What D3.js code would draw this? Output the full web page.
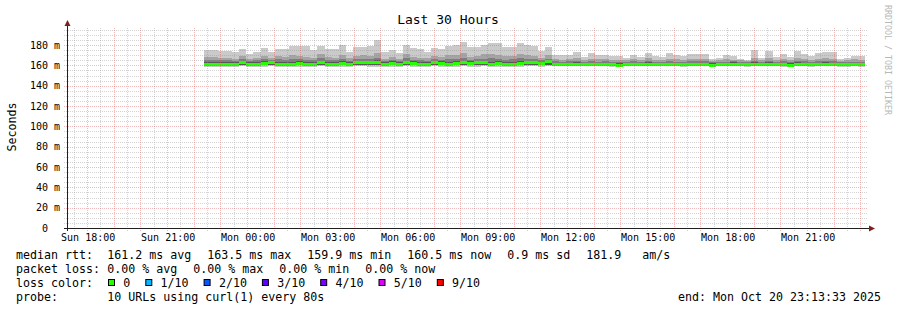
<!DOCTYPE html>
<html><head><meta charset="utf-8">
<script src="https://cdn.jsdelivr.net/npm/d3@7"></script>
<style>
html,body{margin:0;padding:0;background:#fff;}
svg{display:block;}
text{font-family:"DejaVu Sans Mono",monospace;fill:#000;}
</style></head><body>
<svg id="c" width="897" height="310"></svg>
<script>
// ---------------- data ----------------
const title = "Last 30 Hours";
const yAxisTitle = "Seconds";
const watermark = "RRDTOOL / TOBI OETIKER";
const endTime = new Date(Date.UTC(2025, 9, 20, 23, 13, 33));
const spanHours = 30;
const dataStart = new Date(Date.UTC(2025, 9, 19, 22, 21, 0));
const stepSeconds = 960;
const yTicks = [0, 20, 40, 60, 80, 100, 120, 140, 160, 180];
const xTickTimes = [
  Date.UTC(2025,9,19,18), Date.UTC(2025,9,19,21), Date.UTC(2025,9,20,0),
  Date.UTC(2025,9,20,3), Date.UTC(2025,9,20,6), Date.UTC(2025,9,20,9),
  Date.UTC(2025,9,20,12), Date.UTC(2025,9,20,15), Date.UTC(2025,9,20,18),
  Date.UTC(2025,9,20,21)];
const xTickLabels = ["Sun 18:00","Sun 21:00","Mon 00:00","Mon 03:00","Mon 06:00",
  "Mon 09:00","Mon 12:00","Mon 15:00","Mon 18:00","Mon 21:00"];

// rtt in ms, one value per 16-minute step
const pMax = [175.1,175.1,174.4,173.8,173.1,176.1,171.1,173.1,177.0,173.1,
176.1,176.1,179.0,179.0,179.0,175.1,179.5,176.1,176.1,180.3,
173.1,178.3,178.3,179.0,184.9,173.1,175.1,172.4,180.3,176.8,
176.1,173.1,176.8,176.1,178.6,180.3,183.0,178.3,178.3,180.3,
181.7,181.7,177.7,177.7,182.0,179.7,179.0,174.1,178.0,170.2,
170.2,170.2,173.1,168.2,172.1,170.2,170.2,169.2,169.2,167.2,
170.2,168.2,172.1,169.2,168.2,172.4,170.2,168.9,171.0,171.1,
171.1,166.2,167.2,170.2,169.2,166.7,165.7,175.1,167.2,174.1,
168.2,171.1,168.2,174.1,171.1,169.2,172.1,173.1,173.1,166.2,
167.2,169.2,169.2];
const p9 = [168.5,168.0,166.8,167.2,166.5,169.0,166.0,167.5,169.5,167.0,
168.8,168.0,170.2,169.6,168.5,167.0,170.8,168.0,167.5,170.0,
166.8,169.5,170.5,169.0,172.5,166.5,167.8,166.0,171.0,168.5,
167.5,166.8,169.5,168.0,169.8,170.5,172.0,168.5,169.0,170.8,
171.5,170.2,168.8,169.5,171.2,170.0,169.5,167.0,170.0,166.0,
165.5,166.2,167.0,165.2,166.5,165.8,166.0,165.5,165.0,164.8,
166.0,165.2,166.8,165.5,165.0,166.5,165.8,165.2,166.0,166.2,
166.0,164.5,165.0,165.8,165.5,164.8,164.5,167.5,165.0,167.0,
165.2,166.0,165.0,167.2,166.0,165.5,166.5,166.8,166.5,164.5,
165.0,165.8,165.5];
const p8 = [165.5,165.0,164.8,165.2,164.6,166.0,164.5,165.0,166.2,164.8,
166.0,165.2,166.5,166.0,165.5,164.8,166.8,165.2,165.0,166.5,
164.6,166.2,166.5,165.8,167.5,164.6,165.2,164.5,166.8,165.5,
165.0,164.6,166.2,165.2,166.0,166.5,167.0,165.5,166.0,166.5,
167.0,166.2,165.5,166.0,166.8,166.2,165.8,164.8,166.5,163.8,
163.5,163.9,164.2,163.5,164.0,163.6,163.8,163.5,163.3,163.2,
163.8,163.5,164.2,163.6,163.4,164.0,163.7,163.5,163.8,164.0,
163.8,163.2,163.4,163.7,163.8,163.3,163.2,164.5,163.4,164.2,
163.5,163.8,163.4,164.3,163.8,163.6,164.0,164.2,164.0,163.2,
163.4,163.7,163.6];
const p7 = [163.0,163.2,163.0,163.4,163.0,164.3,162.9,163.1,163.8,164.2,
163.3,163.0,163.5,163.8,163.2,163.0,164.5,163.2,163.0,164.0,
163.0,164.3,164.5,164.2,164.8,163.0,163.8,163.3,164.5,163.8,
163.5,163.0,164.4,163.8,163.2,164.0,164.6,163.8,164.5,164.6,
163.5,164.0,163.2,163.4,164.0,164.5,164.3,163.6,165.0,162.6,
162.5,162.6,162.8,162.4,162.7,162.5,162.6,162.4,162.0,162.4,
162.6,162.5,162.8,162.5,162.4,162.7,162.5,162.4,162.6,162.6,
162.6,162.1,162.4,162.5,162.8,162.3,162.3,163.0,162.4,162.8,
162.4,162.6,162.1,162.9,162.5,162.4,162.7,162.8,162.6,162.3,
162.3,162.5,162.3];
const median = [160.8,160.8,160.8,161.3,160.8,163.2,160.8,160.8,161.8,163.2,
160.8,160.8,160.8,161.8,160.8,160.8,163.2,160.8,160.8,161.8,
160.8,163.2,163.2,162.8,162.3,160.8,161.8,161.3,162.8,161.8,
161.3,160.8,162.8,161.8,160.8,161.8,162.8,161.8,162.8,162.8,
160.8,161.8,160.8,160.8,161.8,162.8,162.8,161.8,163.5,161.0,
160.8,160.8,161.0,160.8,161.0,160.8,160.8,160.6,159.9,160.8,
161.0,160.8,161.0,160.8,160.8,161.0,160.8,160.8,161.0,160.9,
160.8,160.2,160.8,160.8,161.2,160.8,160.8,161.0,160.8,161.0,
160.8,160.8,160.2,161.0,160.8,160.8,161.0,160.8,160.8,160.8,
160.6,160.8,160.5];
const pLow = [159.6,159.5,159.7,159.8,159.5,160.6,159.6,159.5,160.0,160.5,
159.6,159.5,159.7,160.0,159.6,159.5,160.6,159.6,159.5,160.0,
159.6,160.5,160.6,160.4,160.2,159.5,160.0,159.8,160.4,160.0,
159.8,159.6,160.4,160.0,159.6,160.0,160.5,160.0,160.4,160.4,
159.6,160.0,159.5,159.6,160.0,160.4,160.5,160.0,160.8,159.9,
159.8,159.8,159.9,159.8,159.9,159.8,159.8,159.6,159.2,159.8,
159.9,159.8,159.9,159.8,159.8,159.9,159.8,159.7,159.9,159.8,
159.8,159.3,159.8,159.8,160.0,159.8,159.7,159.9,159.8,159.9,
159.8,159.7,159.3,159.9,159.8,159.7,159.9,159.8,159.8,159.7,
159.6,159.8,159.5];
const pMin = [158.6,158.5,158.7,158.8,158.4,159.0,158.6,158.5,158.8,158.9,
158.5,158.4,158.6,158.8,158.5,158.4,158.9,158.5,158.3,158.8,
158.5,158.9,159.0,158.8,158.6,158.4,158.7,158.6,158.9,158.7,
158.6,158.4,158.9,158.7,158.4,158.7,158.9,158.6,158.8,158.9,
158.4,158.7,158.3,158.5,158.7,158.9,159.0,158.6,159.2,159.0,
158.9,159.0,159.1,158.9,159.0,158.9,159.0,158.8,158.3,158.9,
159.0,158.9,159.1,158.9,158.9,159.0,158.9,158.8,159.0,158.9,
159.0,158.4,158.9,158.9,159.1,158.9,158.8,159.0,158.9,159.0,
158.9,158.8,158.4,159.0,158.9,158.8,159.0,158.9,158.9,158.8,
158.7,158.9,158.6];

const lossLabels = ["0","1/10","2/10","3/10","4/10","5/10","9/10"];
const lossColors = ["#26ff00","#00b8ff","#0059ff","#5e00ff","#7e00ff","#dd00ff","#ff0000"];
const rttLabel = "median rtt:";
const rttStats = ["161.2 ms avg","163.5 ms max","159.9 ms min","160.5 ms now","0.9 ms sd","181.9   am/s"];
const lossLabel = "packet loss:";
const lossStats = ["0.00 % avg","0.00 % max","0.00 % min","0.00 % now"];
const colorLabel = "loss color:";
const probeLabel = "probe:";
const probeText = "10 URLs using curl(1) every 80s";
const endText = "end: Mon Oct 20 23:13:33 2025";

// ---------------- chart ----------------
(function () {
const svg = d3.select("#c");
const W = 897, H = 310;
const pL = 67, pR = 867, pT = 28, pB = 228;
const startTime = new Date(endTime.getTime() - spanHours * 3600e3);
const yMax = 180 * (pB - pT) / 183;
const x = d3.scaleUtc().domain([startTime, endTime]).range([pL, pR]);
const y = d3.scaleLinear().domain([0, yMax]).range([pB, pT]);

svg.append("rect").attr("width", W).attr("height", H).attr("fill", "#fff");

const rows = median.map((m, i) => ({
  t0: new Date(dataStart.getTime() + i * stepSeconds * 1000),
  t1: new Date(dataStart.getTime() + (i + 1) * stepSeconds * 1000),
  max: pMax[i], p9: p9[i], p8: p8[i], p7: p7[i], med: m, low: pLow[i], min: pMin[i]
}));

const smoke = svg.append("g").attr("shape-rendering", "crispEdges");
const bands = [
  {lo: "min", hi: "max", c: "#cacaca"},
  {lo: "low", hi: "p9", c: "#a4a4a4"},
  {lo: "low", hi: "p8", c: "#7e7e7e"},
  {lo: "low", hi: "p7", c: "#585858"}
];
bands.forEach(b => {
  smoke.append("g").selectAll("rect").data(rows).join("rect")
    .attr("x", d => Math.round(x(d.t0)))
    .attr("width", d => Math.round(x(d.t1)) - Math.round(x(d.t0)))
    .attr("y", d => Math.round(y(d[b.hi])))
    .attr("height", d => Math.max(0, Math.round(y(d[b.lo])) - Math.round(y(d[b.hi]))))
    .attr("fill", b.c);
});
smoke.append("g").selectAll("rect").data(rows).join("rect")
  .attr("x", d => Math.round(x(d.t0)))
  .attr("width", d => Math.round(x(d.t1)) - Math.round(x(d.t0)))
  .attr("y", d => Math.round(y(d.med) - 1.5))
  .attr("height", 3)
  .attr("fill", lossColors[0]);

// grid
const grid = svg.append("g");
const minorGrid = "rgba(143,143,143,0.38)";
const majorGrid = "rgba(222,80,80,0.38)";
const hMinor = d3.range(5, yMax, 5).filter(v => v % 20 !== 0);
grid.append("g").selectAll("line").data(hMinor).join("line")
  .attr("x1", pL - 3).attr("x2", pR)
  .attr("y1", d => Math.round(y(d)) + 0.5).attr("y2", d => Math.round(y(d)) + 0.5)
  .attr("stroke", minorGrid).attr("stroke-dasharray", "1,1");
const vMinor = d3.utcMinute.every(30).range(startTime, endTime)
  .filter(t => t.getUTCMinutes() !== 0);
grid.append("g").selectAll("line").data(vMinor).join("line")
  .attr("x1", d => Math.floor(x(d)) + 0.5).attr("x2", d => Math.floor(x(d)) + 0.5)
  .attr("y1", pT).attr("y2", pB + 3)
  .attr("stroke", minorGrid).attr("stroke-dasharray", "1,1");
grid.append("g").selectAll("line").data(yTicks.filter(v => v > 0)).join("line")
  .attr("x1", pL - 3).attr("x2", pR)
  .attr("y1", d => Math.round(y(d)) + 0.5).attr("y2", d => Math.round(y(d)) + 0.5)
  .attr("stroke", majorGrid).attr("stroke-dasharray", "1,1");
const vMajor = d3.utcHour.range(startTime, endTime);
grid.append("g").selectAll("line").data(vMajor).join("line")
  .attr("x1", d => Math.floor(x(d)) + 0.5).attr("x2", d => Math.floor(x(d)) + 0.5)
  .attr("y1", pT).attr("y2", pB + 3)
  .attr("stroke", majorGrid).attr("stroke-dasharray", "1,1");

// axes
const axisColor = "#1f1f1f";
const yAx = svg.append("g").attr("transform", `translate(${pL},0)`)
  .call(d3.axisLeft(y).tickValues(yTicks).tickSize(0).tickPadding(7)
    .tickFormat(d => d === 0 ? "0" : d + " m"));
yAx.select(".domain").remove();
yAx.selectAll("text").attr("font-size", "10px").attr("font-family", "DejaVu Sans Mono")
  .attr("fill", "#000");
yAx.selectAll(".tick").filter(d => d === 0).select("text").attr("x", -19);

const xAx = svg.append("g").attr("transform", `translate(0,${pB})`)
  .call(d3.axisBottom(x).tickValues(xTickTimes.map(t => new Date(t))).tickSize(0).tickPadding(6)
    .tickFormat((d, i) => xTickLabels[i]));
xAx.select(".domain").remove();
xAx.selectAll("text").attr("font-size", "10px").attr("font-family", "DejaVu Sans Mono")
  .attr("fill", "#000");

svg.append("line").attr("x1", pL + 0.5).attr("x2", pL + 0.5)
  .attr("y1", pB + 3).attr("y2", pT - 3).attr("stroke", axisColor);
svg.append("line").attr("x1", pL - 3).attr("x2", pR + 3)
  .attr("y1", pB + 0.5).attr("y2", pB + 0.5).attr("stroke", axisColor);
svg.append("path").attr("d", `M${pL - 2.5},${pT - 2}L${pL + 3.5},${pT - 2}L${pL + 0.5},${pT - 8}Z`)
  .attr("fill", "#7f1f1f");
svg.append("path").attr("d", `M${pR + 2},${pB - 2.5}L${pR + 2},${pB + 3.5}L${pR + 8},${pB + 0.5}Z`)
  .attr("fill", "#7f1f1f");

// titles
svg.append("text").attr("x", 448).attr("y", 24).attr("text-anchor", "middle")
  .attr("font-size", "13px").text(title);
svg.append("text").attr("transform", "translate(15.5,127) rotate(-90)")
  .attr("text-anchor", "middle").attr("font-size", "11.6px").text(yAxisTitle);
svg.append("text").attr("transform", "translate(885,5) rotate(90)")
  .attr("font-size", "8.3px").style("fill", "#b8b8b8").text(watermark);

// legend
const cw = 7.0, gap = 16, lx = 16, vx = 107.3, fs = "11.63px";
const leg = svg.append("g").attr("font-size", fs);
function row(yb, label, items) {
  leg.append("text").attr("x", lx).attr("y", yb).text(label);
  let xx = vx;
  items.forEach(s => {
    leg.append("text").attr("x", xx).attr("y", yb).style("white-space", "pre").text(s);
    xx += s.length * cw + gap;
  });
}
row(258.5, rttLabel, rttStats);
row(272.5, lossLabel, lossStats);
leg.append("text").attr("x", lx).attr("y", 286.5).text(colorLabel);
let bx = 108.5;
lossLabels.forEach((l, i) => {
  leg.append("rect").attr("x", bx).attr("y", 279.5).attr("width", 6).attr("height", 6)
    .attr("fill", lossColors[i]).attr("stroke", "#000");
  leg.append("text").attr("x", bx + 14.8).attr("y", 286.5).text(l);
  bx = bx + 14.8 + l.length * cw + 15.5;
});
leg.append("text").attr("x", lx).attr("y", 300.5).text(probeLabel);
leg.append("text").attr("x", vx).attr("y", 300.5).text(probeText);
leg.append("text").attr("x", 881).attr("y", 300.5).attr("text-anchor", "end").text(endText);
})();
</script>
</body></html>
